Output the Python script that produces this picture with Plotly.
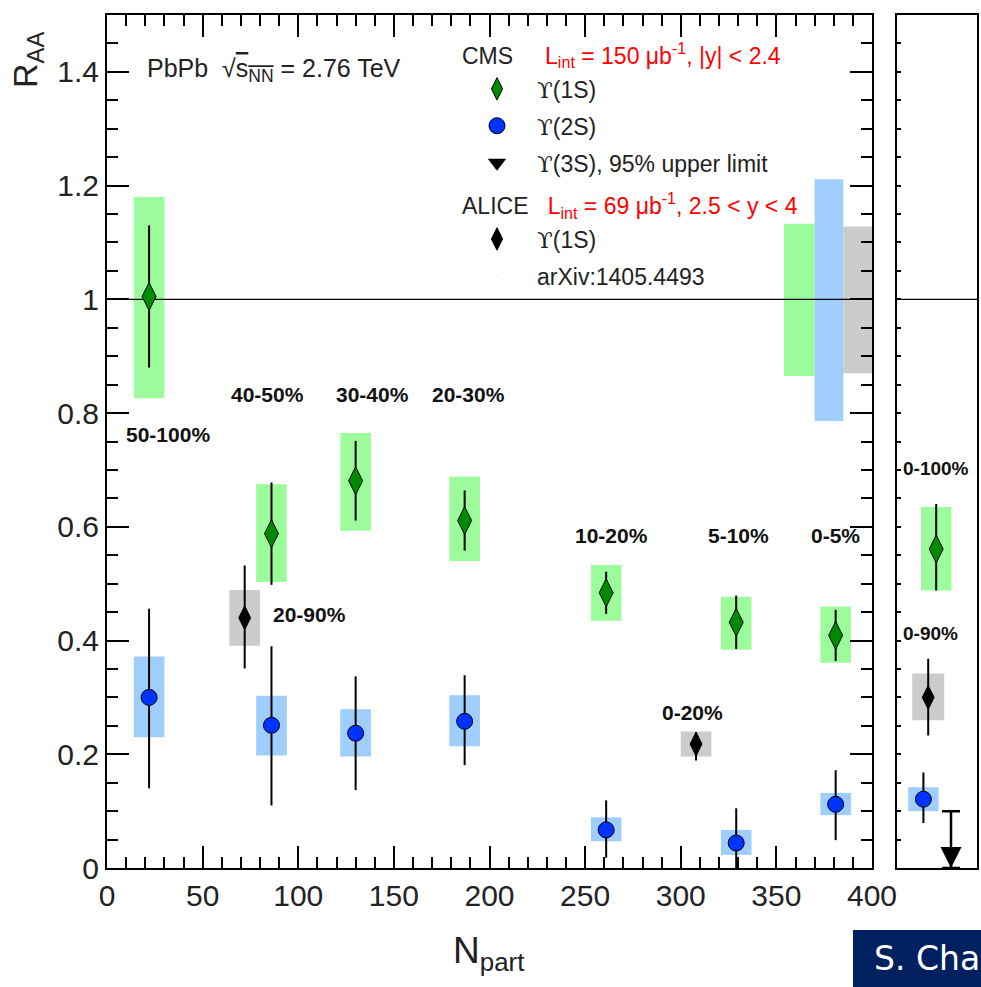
import plotly.graph_objects as go

# ---------------- data ----------------
cms_npart = [22, 86, 130, 187, 261, 329, 381]
cms1s = [1.005, 0.588, 0.681, 0.611, 0.484, 0.432, 0.409]
cms1s_stat = [0.125, 0.090, 0.070, 0.053, 0.037, 0.047, 0.045]
cms1s_syst_lo = [0.826, 0.503, 0.593, 0.540, 0.435, 0.384, 0.361]
cms1s_syst_hi = [1.180, 0.675, 0.765, 0.688, 0.533, 0.477, 0.460]

cms2s = [0.300, 0.251, 0.237, 0.258, 0.067, 0.044, 0.112]
cms2s_stat_up = [0.156, 0.139, 0.100, 0.081, 0.052, 0.061, 0.060]
cms2s_stat_dn = [0.160, 0.141, 0.100, 0.077, 0.049, 0.044, 0.063]
cms2s_syst_lo = [0.230, 0.198, 0.196, 0.214, 0.047, 0.023, 0.093]
cms2s_syst_hi = [0.372, 0.303, 0.279, 0.304, 0.089, 0.067, 0.132]

alice_npart = [72, 308]
alice1s = [0.440, 0.218]
alice1s_stat_up = [0.092, 0.021]
alice1s_stat_dn = [0.089, 0.029]
alice1s_syst_lo = [0.391, 0.196]
alice1s_syst_hi = [0.489, 0.240]

box_halfwidth = 8  # in Npart units

# global uncertainties (boxes at R_AA = 1)
glob_names = ["CMS 1S", "CMS 2S", "ALICE 1S"]
glob_x0 = [354, 370, 385]
glob_x1 = [370, 385, 400]
glob_lo = [0.865, 0.786, 0.870]
glob_hi = [1.133, 1.211, 1.128]

# integrated (right panel)
int_names = ["CMS 1S 0-100%", "ALICE 1S 0-90%", "CMS 2S 0-100%"]
int_pos = [0.49, 0.39, 0.33]
int_val = [0.561, 0.300, 0.121]
int_stat_up = [0.079, 0.068, 0.047]
int_stat_dn = [0.073, 0.067, 0.042]
int_syst_lo = [0.488, 0.260, 0.100]
int_syst_hi = [0.635, 0.342, 0.142]
int_halfwidth = [0.19, 0.20, 0.19]
ul3s_pos = 0.675
ul3s_val = 0.10

cent_labels = ["50-100%", "40-50%", "30-40%", "20-30%", "10-20%", "5-10%", "0-5%", "20-90%", "0-20%"]
cent_x = [32, 84, 139, 189, 264, 330, 381, 106, 306]
cent_y = [0.763, 0.833, 0.833, 0.833, 0.584, 0.584, 0.584, 0.446, 0.274]
int_labels = ["0-100%", "0-90%"]
int_label_x = [0.05, 0.05]
int_label_y = [0.703, 0.412]

x_ticks = [0, 50, 100, 150, 200, 250, 300, 350, 400]
y_ticks = [0, 0.2, 0.4, 0.6, 0.8, 1.0, 1.2, 1.4]
y_ticktext = ["0", "0.2", "0.4", "0.6", "0.8", "1", "1.2", "1.4"]

# ---------------- style ----------------
GREEN = "#008a00"
GREEN_BOX = "#9cfc9c"
BLUE = "#0033ff"
BLUE_BOX = "#9fcdfc"
GRAY_BOX = "#cccccc"
FONT = "Liberation Sans, Arial, Helvetica, sans-serif"
UPS = "<span style='font-family:DejaVu Serif'>ϒ</span>"
LEG_FS = 23

W, H = 981, 987
px_l, px_r, px_t, px_b = 107, 872, 15, 868
px2_l, px2_r = 897, 977

fig = go.Figure()

err_style = dict(type="data", symmetric=False, width=0, thickness=2, color="black")
title_font = dict(size=28, family=FONT, color="#222")


def sized(t):
    return f"<span style='font-size:{LEG_FS}px'>{t}</span>"


# CMS Y(1S)
fig.add_trace(go.Scatter(
    x=cms_npart, y=cms1s, mode="markers", name=f"{UPS}(1S)",
    legendgroup="cms1s",
    legendgrouptitle=dict(text=sized("CMS&nbsp;&nbsp;&nbsp;&nbsp;&nbsp;<span style='color:#ff0000'>L<sub>int</sub> = 150 μb<sup>-1</sup>, |y| &lt; 2.4</span>"),
                          font=title_font),
    marker=dict(symbol="diamond-tall", size=20, color=GREEN, line=dict(color="black", width=1)),
    error_y=dict(err_style, array=cms1s_stat, arrayminus=cms1s_stat),
    xaxis="x", yaxis="y", cliponaxis=False,
))
# CMS Y(2S)
fig.add_trace(go.Scatter(
    x=cms_npart, y=cms2s, mode="markers", name=f"{UPS}(2S)",
    legendgroup="cms2s",
    marker=dict(symbol="circle", size=16, color=BLUE, line=dict(color="black", width=1)),
    error_y=dict(err_style, array=cms2s_stat_up, arrayminus=cms2s_stat_dn),
    xaxis="x", yaxis="y", cliponaxis=False,
))
# CMS Y(3S) legend entry
fig.add_trace(go.Scatter(
    x=[None], y=[None], mode="markers", name=f"{UPS}(3S), 95% upper limit",
    legendgroup="cms3s",
    marker=dict(symbol="triangle-down", size=16, color="black"),
    xaxis="x", yaxis="y",
))
# ALICE Y(1S)
fig.add_trace(go.Scatter(
    x=alice_npart, y=alice1s, mode="markers", name=f"{UPS}(1S)",
    legendgroup="alice1s",
    legendgrouptitle=dict(text=sized("ALICE&nbsp;&nbsp;&nbsp;<span style='color:#ff0000'>L<sub>int</sub> = 69 μb<sup>-1</sup>, 2.5 &lt; y &lt; 4</span>"),
                          font=title_font),
    marker=dict(symbol="diamond-tall", size=17, color="black", line=dict(color="black", width=1)),
    error_y=dict(err_style, array=alice1s_stat_up, arrayminus=alice1s_stat_dn),
    xaxis="x", yaxis="y", cliponaxis=False,
))
fig.add_trace(go.Scatter(
    x=[None], y=[None], mode="markers", name="arXiv:1405.4493",
    legendgroup="arxiv",
    marker=dict(symbol="circle", size=1, opacity=0),
    xaxis="x", yaxis="y",
))

# right panel: integrated points
int_markers = [
    dict(symbol="diamond-tall", size=20, color=GREEN, line=dict(color="black", width=1)),
    dict(symbol="diamond-tall", size=17, color="black", line=dict(color="black", width=1)),
    dict(symbol="circle", size=16, color=BLUE, line=dict(color="black", width=1)),
]
for i in range(len(int_val)):
    fig.add_trace(go.Scatter(
        x=[int_pos[i]], y=[int_val[i]], mode="markers", showlegend=False,
        name=int_names[i], marker=int_markers[i],
        error_y=dict(err_style, array=[int_stat_up[i]], arrayminus=[int_stat_dn[i]]),
        xaxis="x2", yaxis="y2", cliponaxis=False,
    ))
# Y(3S) upper limit
fig.add_trace(go.Scatter(
    x=[ul3s_pos], y=[0], mode="markers", showlegend=False, name="Y(3S) UL",
    marker=dict(symbol="arrow-down", size=21, color="black"),
    error_y=dict(type="data", symmetric=False, array=[ul3s_val], arrayminus=[0],
                 width=9, thickness=2.5, color="black"),
    xaxis="x2", yaxis="y2", cliponaxis=False,
))

# ---------------- boxes (systematics) ----------------
shapes = []


def box(xref, yref, x0, x1, y0, y1, color):
    return dict(type="rect", xref=xref, yref=yref, x0=x0, x1=x1, y0=y0, y1=y1,
                fillcolor=color, line=dict(width=0), layer="below")


for xv, lo, hi in zip(cms_npart, cms1s_syst_lo, cms1s_syst_hi):
    shapes.append(box("x", "y", xv - box_halfwidth, xv + box_halfwidth, lo, hi, GREEN_BOX))
for xv, lo, hi in zip(cms_npart, cms2s_syst_lo, cms2s_syst_hi):
    shapes.append(box("x", "y", xv - box_halfwidth, xv + box_halfwidth, lo, hi, BLUE_BOX))
for xv, lo, hi in zip(alice_npart, alice1s_syst_lo, alice1s_syst_hi):
    shapes.append(box("x", "y", xv - box_halfwidth, xv + box_halfwidth, lo, hi, GRAY_BOX))
for x0, x1, lo, hi, c in zip(glob_x0, glob_x1, glob_lo, glob_hi, [GREEN_BOX, BLUE_BOX, GRAY_BOX]):
    shapes.append(box("x", "y", x0, x1, lo, hi, c))
for p, hw, lo, hi, c in zip(int_pos, int_halfwidth, int_syst_lo, int_syst_hi, [GREEN_BOX, GRAY_BOX, BLUE_BOX]):
    shapes.append(box("x2", "y2", p - hw, p + hw, lo, hi, c))

# unity lines
shapes.append(dict(type="line", xref="x", yref="y", x0=0, x1=400, y0=1, y1=1,
                   line=dict(color="black", width=1.2), layer="below"))
shapes.append(dict(type="line", xref="x2", yref="y2", x0=0, x1=1, y0=1, y1=1,
                   line=dict(color="black", width=1.2), layer="below"))
# footer box
shapes.append(dict(type="rect", xref="paper", yref="paper", x0=853 / W, x1=1.0, y0=0, y1=(H - 930) / H,
                   fillcolor="#002060", line=dict(width=0), layer="above"))

# ---------------- annotations ----------------
ann = []
for t, xv, yv in zip(cent_labels, cent_x, cent_y):
    ann.append(dict(text=f"<b>{t}</b>", x=xv, y=yv, xref="x", yref="y", showarrow=False,
                    xanchor="center", yanchor="middle", font=dict(size=21, family=FONT, color="#111")))
for t, xv, yv in zip(int_labels, int_label_x, int_label_y):
    ann.append(dict(text=f"<b>{t}</b>", x=xv, y=yv, xref="x2", yref="y2", showarrow=False,
                    xanchor="left", yanchor="middle", font=dict(size=19, family=FONT, color="#111")))

ann.append(dict(text="PbPb&nbsp;&nbsp;√<span style='text-decoration:overline'>s<sub>NN</sub></span> = 2.76 TeV",
                x=145 / W, y=(H - 70) / H, xref="paper", yref="paper", showarrow=False,
                xanchor="left", yanchor="middle", font=dict(size=25, family=FONT, color="#222")))
ann.append(dict(text="R<sub>AA</sub>", x=27 / W, y=(H - 60) / H, xref="paper", yref="paper",
                showarrow=False, textangle=-90, xanchor="center", yanchor="middle",
                font=dict(size=34, family=FONT, color="#222")))
ann.append(dict(text="N<sub>part</sub>", x=488 / W, y=(H - 953) / H, xref="paper", yref="paper",
                showarrow=False, xanchor="center", yanchor="middle",
                font=dict(size=37, family=FONT, color="#222")))
ann.append(dict(text="S. Cha", x=872 / W, y=(H - 958) / H, xref="paper", yref="paper",
                showarrow=False, xanchor="left", yanchor="middle",
                font=dict(size=33, family="DejaVu Sans, Verdana, sans-serif", color="white")))

axis_common = dict(showgrid=False, zeroline=False, showline=True, linecolor="black", linewidth=2,
                   ticks="inside", tickcolor="black", tickwidth=1.5, mirror="ticks",
                   tickfont=dict(size=30, family=FONT, color="#222"))

fig.update_layout(
    width=W, height=H, margin=dict(l=0, r=0, t=0, b=0),
    paper_bgcolor="white", plot_bgcolor="white",
    showlegend=True,
    legend=dict(x=457 / W, y=(H - 28) / H, xanchor="left", yanchor="top",
                bgcolor="rgba(0,0,0,0)", font=dict(size=LEG_FS, family=FONT, color="#222"),
                tracegroupgap=4, traceorder="grouped", itemwidth=70),
    xaxis=dict(axis_common, domain=[px_l / W, px_r / W], range=[0, 400], anchor="y",
               tickmode="array", tickvals=x_ticks, ticklen=22,
               minor=dict(dtick=10, ticklen=11, tickcolor="black", tickwidth=1.5, ticks="inside"),
               automargin=False),
    yaxis=dict(axis_common, domain=[(H - px_b) / H, (H - px_t) / H], range=[0, 1.5], anchor="x",
               tickmode="array", tickvals=y_ticks, ticktext=y_ticktext,
               ticklen=22,
               minor=dict(dtick=0.05, ticklen=11, tickcolor="black", tickwidth=1.5, ticks="inside"),
               automargin=False),
    xaxis2=dict(domain=[px2_l / W, px2_r / W], range=[0, 1], anchor="y2", showgrid=False, zeroline=False,
                showline=True, linecolor="black", linewidth=2, mirror=True, ticks="",
                showticklabels=False, automargin=False),
    yaxis2=dict(domain=[(H - px_b) / H, (H - px_t) / H], range=[0, 1.5], anchor="x2", showgrid=False,
                zeroline=False, showline=True, linecolor="black", linewidth=2, mirror=True,
                ticks="inside", ticklen=4, tickwidth=1.5, tickcolor="black", dtick=0.05,
                showticklabels=False, automargin=False),
    shapes=shapes, annotations=ann,
)

fig.write_html("out.html")
